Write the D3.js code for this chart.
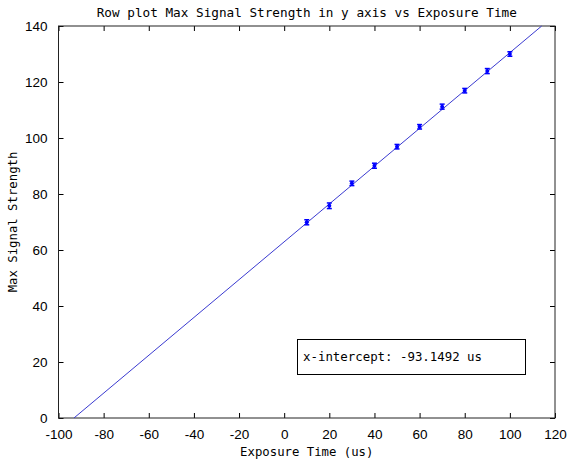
<!DOCTYPE html>
<html>
<head>
<meta charset="utf-8">
<script src="https://cdn.jsdelivr.net/npm/d3@7"></script>
<style>
  body { margin: 0; background: #fff; }
  svg { display: block; }
</style>
</head>
<body>
<svg id="chart"></svg>
<script>
// data
var exposure = [10, 20, 30, 40, 50, 60, 70, 80, 90, 100];
var maxSignal = [69.9, 75.8, 83.8, 90.1, 96.9, 104.0, 111.2, 116.9, 123.9, 130.0];
var errSignal = [0.9, 1.0, 0.8, 0.9, 0.8, 0.8, 0.9, 0.8, 0.9, 0.8];
// fitted line end points (x-intercept to top of axes)
var fitX = [-93.1492, 114.1];
var fitY = [0, 140];
var xTicks = [-100, -80, -60, -40, -20, 0, 20, 40, 60, 80, 100, 120];
var yTicks = [0, 20, 40, 60, 80, 100, 120, 140];

var width = 567, height = 465;
var margin = { top: 26, right: 12, bottom: 47, left: 58.5 };

var svg = d3.select('#chart')
  .attr('width', width)
  .attr('height', height);

var x = d3.scaleLinear()
  .domain([-100, 120])
  .range([margin.left, width - margin.right]);

var y = d3.scaleLinear()
  .domain([0, 140])
  .range([height - margin.bottom, margin.top]);

var mono = '"DejaVu Sans Mono", monospace';
var sans = '"Liberation Sans", Arial, sans-serif';
var fmt = d => String(d); // plain hyphen for negatives

// axes: ticks inward on all four sides, like matlab
var tickLen = 5;
function styleAxis(g) {
  g.select('.domain').remove();
  g.selectAll('line').attr('stroke', '#000');
  g.selectAll('text').style('font-family', sans).style('font-size', '13.5px').attr('fill', '#000');
}

svg.append('g')
  .attr('transform', 'translate(0,' + y(0) + ')')
  .call(d3.axisBottom(x).tickValues(xTicks).tickFormat(fmt).tickSizeInner(-tickLen).tickSizeOuter(0).tickPadding(11))
  .call(styleAxis);

svg.append('g')
  .attr('transform', 'translate(0,' + y(140) + ')')
  .call(d3.axisTop(x).tickValues(xTicks).tickSizeInner(-tickLen).tickSizeOuter(0).tickFormat(''))
  .call(styleAxis);

svg.append('g')
  .attr('transform', 'translate(' + x(-100) + ',0)')
  .call(d3.axisLeft(y).tickValues(yTicks).tickFormat(fmt).tickSizeInner(-tickLen).tickSizeOuter(0).tickPadding(11))
  .call(styleAxis);

svg.append('g')
  .attr('transform', 'translate(' + x(120) + ',0)')
  .call(d3.axisRight(y).tickValues(yTicks).tickSizeInner(-tickLen).tickSizeOuter(0).tickFormat(''))
  .call(styleAxis);

// axes box
svg.append('rect')
  .attr('x', x(-100))
  .attr('y', y(140))
  .attr('width', x(120) - x(-100))
  .attr('height', y(0) - y(140))
  .attr('fill', 'none')
  .attr('stroke', '#222')
  .attr('stroke-width', 1);

// fit line
var fitData = fitX.map(function(d, i) { return [d, fitY[i]]; });
svg.append('path')
  .datum(fitData)
  .attr('d', d3.line().x(d => x(d[0])).y(d => y(d[1])))
  .attr('fill', 'none')
  .attr('stroke', '#3a3ad0')
  .attr('stroke-width', 1);

// error bars
var pts = exposure.map(function(d, i) { return { x: d, y: maxSignal[i], e: errSignal[i] }; });
var eb = svg.append('g').attr('stroke', '#0000ff').attr('stroke-width', 1.5);
eb.selectAll('.bar').data(pts).enter().append('line')
  .attr('x1', d => x(d.x)).attr('x2', d => x(d.x))
  .attr('y1', d => y(d.y - d.e)).attr('y2', d => y(d.y + d.e));
eb.selectAll('.capT').data(pts).enter().append('line')
  .attr('x1', d => x(d.x) - 2.5).attr('x2', d => x(d.x) + 2.5)
  .attr('y1', d => y(d.y + d.e)).attr('y2', d => y(d.y + d.e));
eb.selectAll('.capB').data(pts).enter().append('line')
  .attr('x1', d => x(d.x) - 2.5).attr('x2', d => x(d.x) + 2.5)
  .attr('y1', d => y(d.y - d.e)).attr('y2', d => y(d.y - d.e));
svg.append('g').selectAll('circle').data(pts).enter().append('circle')
  .attr('cx', d => x(d.x)).attr('cy', d => y(d.y))
  .attr('r', 2)
  .attr('fill', '#0000ff');

/* TITLE and labels */
svg.append('text')
  .attr('x', (x(-100) + x(120)) / 2)
  .attr('y', 17)
  .attr('text-anchor', 'middle')
  .style('font-family', mono)
  .style('font-size', '12.7px')
  .text('Row plot Max Signal Strength in y axis vs Exposure Time');

svg.append('text')
  .attr('x', (x(-100) + x(120)) / 2)
  .attr('y', 456)
  .attr('text-anchor', 'middle')
  .style('font-family', mono)
  .style('font-size', '12.3px')
  .text('Exposure Time (us)');

svg.append('text')
  .attr('transform', 'translate(17,' + (y(0) + y(140)) / 2 + ') rotate(-90)')
  .attr('text-anchor', 'middle')
  .style('font-family', mono)
  .style('font-size', '12.3px')
  .text('Max Signal Strength');

// x-intercept annotation box
svg.append('rect')
  .attr('x', 297.5).attr('y', 339.5)
  .attr('width', 228).attr('height', 35)
  .attr('fill', '#fff')
  .attr('stroke', '#000');
svg.append('text')
  .attr('x', 303)
  .attr('y', 361)
  .style('font-family', mono)
  .style('font-size', '12.4px')
  .text('x-intercept: ' + fitX[0] + ' us');
</script>
</body>
</html>
